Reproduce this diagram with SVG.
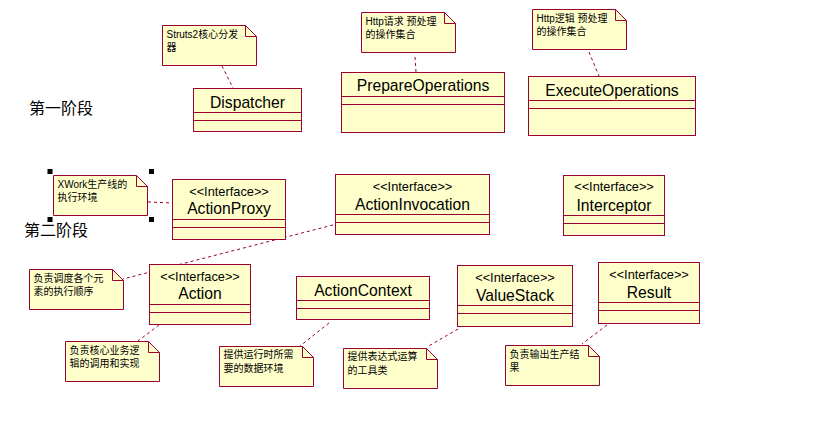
<svg xmlns="http://www.w3.org/2000/svg" width="819" height="424" viewBox="0 0 819 424">
<style>
.box{fill:#FFFFCC;stroke:#990033;stroke-width:1}
.ln{fill:none;stroke:#990033;stroke-width:1}
.dash{fill:none;stroke:#990033;stroke-width:1;stroke-dasharray:3,3}
text{font-family:"Liberation Sans","Noto Sans CJK SC",sans-serif;fill:#000}
.nm{font-size:15.7px;text-anchor:middle}
.st{font-size:12.8px;text-anchor:middle}
.nt{font-size:10px}
.ttl{font-size:16px;font-family:"Noto Sans CJK SC","Liberation Sans",sans-serif}
.h{fill:#000}
</style>
<rect width="819" height="424" fill="#fff"/>

<text class="ttl" x="29" y="113.5">第一阶段</text>
<text class="ttl" x="24" y="236">第二阶段</text>

<g id="connectors">
<path class="dash" d="M222,66 L233,88"/>
<path class="dash" d="M415,57 L416,72"/>
<path class="dash" d="M589,52 L599,76"/>
<path class="dash" d="M148,202 L172,203"/>
<path class="dash" d="M333,225 L123,279"/>
<path class="dash" d="M159,325 L138,341"/>
<path class="dash" d="M329,323 L300,346"/>
<path class="dash" d="M458,329 L427,347"/>
<path class="dash" d="M607,325 L582,344"/>
</g>

<g id="note-struts2">
<path class="box" d="M162.5,25.5 H245.5 L256.5,36.5 V65.5 H162.5 Z"/>
<path class="ln" d="M245.5,25.5 V36.5 H256.5"/>
<text class="nt" x="166.5" y="37.5">Struts2核心分发</text>
<text class="nt" x="166.5" y="50.5">器</text>
</g>

<g id="note-http-request">
<path class="box" d="M361.5,12.5 H444.5 L455.5,23.5 V52.5 H361.5 Z"/>
<path class="ln" d="M444.5,12.5 V23.5 H455.5"/>
<text class="nt" x="365.5" y="24.5">Http请求 预处理</text>
<text class="nt" x="365.5" y="37.5">的操作集合</text>
</g>

<g id="note-http-logic">
<path class="box" d="M532.5,9.5 H615.5 L626.5,20.5 V49.5 H532.5 Z"/>
<path class="ln" d="M615.5,9.5 V20.5 H626.5"/>
<text class="nt" x="536.5" y="21.5">Http逻辑 预处理</text>
<text class="nt" x="536.5" y="34.5">的操作集合</text>
</g>

<g id="note-xwork">
<path class="box" d="M53.5,175.5 H136.5 L147.5,186.5 V215.5 H53.5 Z"/>
<path class="ln" d="M136.5,175.5 V186.5 H147.5"/>
<text class="nt" x="57.5" y="187.5">XWork生产线的</text>
<text class="nt" x="57.5" y="201">执行环境</text>
<rect class="h" x="47.5" y="169" width="5" height="5"/>
<rect class="h" x="149" y="169" width="5" height="5"/>
<rect class="h" x="47.5" y="217" width="5" height="5"/>
<rect class="h" x="149" y="217" width="5" height="5"/>
</g>

<g id="note-schedule">
<path class="box" d="M29.5,269.5 H112.5 L123.5,280.5 V309.5 H29.5 Z"/>
<path class="ln" d="M112.5,269.5 V280.5 H123.5"/>
<text class="nt" x="33.5" y="281.5">负责调度各个元</text>
<text class="nt" x="33.5" y="294.5">素的执行顺序</text>
</g>

<g id="note-core">
<path class="box" d="M65.5,341.5 H148.5 L159.5,352.5 V381.5 H65.5 Z"/>
<path class="ln" d="M148.5,341.5 V352.5 H159.5"/>
<text class="nt" x="69.5" y="353.5">负责核心业务逻</text>
<text class="nt" x="69.5" y="366.5">辑的调用和实现</text>
</g>

<g id="note-runtime">
<path class="box" d="M219.5,346.5 H302.5 L313.5,357.5 V386.5 H219.5 Z"/>
<path class="ln" d="M302.5,346.5 V357.5 H313.5"/>
<text class="nt" x="223.5" y="358">提供运行时所需</text>
<text class="nt" x="223.5" y="371.5">要的数据环境</text>
</g>

<g id="note-expr">
<path class="box" d="M343.5,348.5 H426.5 L437.5,359.5 V388.5 H343.5 Z"/>
<path class="ln" d="M426.5,348.5 V359.5 H437.5"/>
<text class="nt" x="347.5" y="360">提供表达式运算</text>
<text class="nt" x="347.5" y="373.5">的工具类</text>
</g>

<g id="note-result">
<path class="box" d="M505.5,345.5 H588.5 L599.5,356.5 V385.5 H505.5 Z"/>
<path class="ln" d="M588.5,345.5 V356.5 H599.5"/>
<text class="nt" x="509.5" y="358">负责输出生产结</text>
<text class="nt" x="509.5" y="370.5">果</text>
</g>

<g id="Dispatcher">
<rect class="box" x="193.5" y="88.5" width="108" height="43"/>
<path class="ln" d="M193.5,112.5 H301.5 M193.5,120.5 H301.5"/>
<text class="nm" x="247.5" y="108.3">Dispatcher</text>
</g>

<g id="PrepareOperations">
<rect class="box" x="341.5" y="72.5" width="163" height="60"/>
<path class="ln" d="M341.5,96.5 H504.5 M341.5,104.5 H504.5"/>
<text class="nm" x="423" y="90.7">PrepareOperations</text>
</g>

<g id="ExecuteOperations">
<rect class="box" x="528.5" y="76.5" width="167" height="59"/>
<path class="ln" d="M528.5,100.5 H695.5 M528.5,108.5 H695.5"/>
<text class="nm" x="612" y="95.5">ExecuteOperations</text>
</g>

<g id="ActionProxy">
<rect class="box" x="172.5" y="179.5" width="113" height="60"/>
<path class="ln" d="M172.5,219.5 H285.5 M172.5,227.5 H285.5"/>
<text class="st" x="229" y="195.5">&lt;&lt;Interface&gt;&gt;</text>
<text class="nm" x="229" y="214.3">ActionProxy</text>
</g>

<g id="ActionInvocation">
<rect class="box" x="335.5" y="174.5" width="154" height="60"/>
<path class="ln" d="M335.5,214.5 H489.5 M335.5,222.5 H489.5"/>
<text class="st" x="412.5" y="191.3">&lt;&lt;Interface&gt;&gt;</text>
<text class="nm" x="412.5" y="210">ActionInvocation</text>
</g>

<g id="Interceptor">
<rect class="box" x="563.5" y="175.5" width="101" height="60"/>
<path class="ln" d="M563.5,215.5 H664.5 M563.5,223.5 H664.5"/>
<text class="st" x="614" y="191.3">&lt;&lt;Interface&gt;&gt;</text>
<text class="nm" x="614" y="210.7">Interceptor</text>
</g>

<g id="Action">
<rect class="box" x="149.5" y="264.5" width="101" height="60"/>
<path class="ln" d="M149.5,304.5 H250.5 M149.5,312.5 H250.5"/>
<text class="st" x="200" y="281">&lt;&lt;Interface&gt;&gt;</text>
<text class="nm" x="200" y="299">Action</text>
</g>

<g id="ActionContext">
<rect class="box" x="296.5" y="276.5" width="133" height="43"/>
<path class="ln" d="M296.5,300.5 H429.5 M296.5,308.5 H429.5"/>
<text class="nm" x="363" y="295.7">ActionContext</text>
</g>

<g id="ValueStack">
<rect class="box" x="457.5" y="265.5" width="115" height="61"/>
<path class="ln" d="M457.5,305.5 H572.5 M457.5,313.5 H572.5"/>
<text class="st" x="515" y="282.3">&lt;&lt;Interface&gt;&gt;</text>
<text class="nm" x="515" y="300.7">ValueStack</text>
</g>

<g id="Result">
<rect class="box" x="598.5" y="262.5" width="101" height="61"/>
<path class="ln" d="M598.5,302.5 H699.5 M598.5,310.5 H699.5"/>
<text class="st" x="649" y="279.3">&lt;&lt;Interface&gt;&gt;</text>
<text class="nm" x="649" y="298.3">Result</text>
</g>
</svg>
